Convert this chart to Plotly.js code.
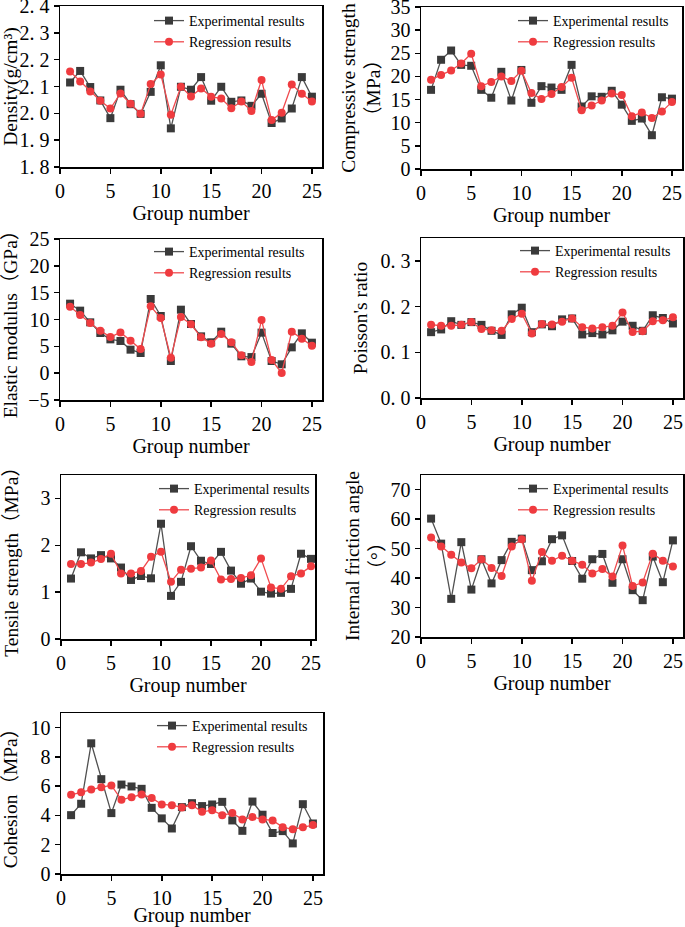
<!DOCTYPE html>
<html>
<head>
<meta charset="utf-8">
<script src="https://cdn.plot.ly/plotly-3.0.1.min.js"></script>
<style>
html,body{margin:0;padding:0;background:#fff;}
#chart{width:685px;height:927px;}
</style>
</head>
<body>
<div id="chart"></div>
<script>
// ---------------- data ----------------
const groupNumber = [1,2,3,4,5,6,7,8,9,10,11,12,13,14,15,16,17,18,19,20,21,22,23,24,25];

const densityExp = [2.115,2.158,2.098,2.048,1.982,2.088,2.034,1.998,2.080,2.179,1.944,2.099,2.088,2.135,2.047,2.099,2.043,2.048,2.028,2.073,1.964,1.981,2.018,2.135,2.062];
const densityReg = [2.156,2.119,2.081,2.047,2.018,2.074,2.036,1.998,2.109,2.145,1.995,2.099,2.063,2.093,2.062,2.055,2.019,2.044,2.009,2.124,1.975,2.002,2.107,2.073,2.044];

const compressiveExp = [17.1,23.6,25.6,22.5,22.3,17.1,15.4,21.0,14.8,21.4,14.3,17.9,17.6,17.1,22.5,13.5,15.7,15.6,16.9,13.9,10.4,10.9,7.3,15.5,15.2];
const compressiveReg = [19.3,20.3,21.3,22.8,24.9,17.9,18.8,20.0,19.0,21.2,16.4,15.1,16.2,17.7,19.7,12.7,13.7,14.8,16.3,16.0,11.4,12.2,11.0,12.4,14.5];

const elasticExp = [12.95,11.65,9.47,7.48,6.3,6.0,4.38,3.76,13.82,10.65,2.27,11.83,9.16,6.86,5.75,7.73,5.5,3.14,3.0,7.55,2.27,1.65,4.81,7.42,5.68];
const elasticReg = [12.39,10.84,9.35,7.92,6.74,7.6,6.06,4.5,12.45,10.28,2.89,10.47,9.1,6.68,5.5,7.3,5.75,3.32,2.08,9.9,2.45,0.03,7.73,6.43,5.12];

const poissonExp = [0.144,0.150,0.168,0.160,0.166,0.160,0.147,0.138,0.183,0.1975,0.144,0.161,0.157,0.172,0.174,0.139,0.142,0.139,0.148,0.167,0.158,0.147,0.181,0.175,0.163];
const poissonReg = [0.1605,0.158,0.158,0.160,0.166,0.151,0.148,0.147,0.173,0.1845,0.141,0.162,0.161,0.167,0.174,0.155,0.152,0.155,0.158,0.187,0.1445,0.146,0.168,0.170,0.1765];

const tensileExp = [1.29,1.85,1.72,1.79,1.72,1.525,1.26,1.345,1.295,2.46,0.92,1.22,1.98,1.67,1.60,1.86,1.46,1.18,1.29,1.01,0.97,0.985,1.07,1.82,1.71];
const tensileReg = [1.60,1.60,1.63,1.705,1.82,1.40,1.40,1.45,1.755,1.86,1.22,1.48,1.50,1.525,1.675,1.27,1.28,1.30,1.36,1.72,1.10,1.07,1.34,1.40,1.55];

const frictionExp = [60.2,51.7,32.95,52.2,36.1,46.4,38.2,46.1,52.3,53.4,42.7,45.7,53.2,54.5,45.8,39.8,46.4,48.2,38.4,46.4,35.9,32.5,47.3,38.6,52.8];
const frictionReg = [53.75,50.7,47.95,45.3,43.3,46.4,43.4,40.7,50.7,53.2,39.1,48.9,45.9,47.6,45.9,44.5,41.6,43.1,40.5,51.1,37.3,38.5,48.3,45.9,43.9];

const cohesionExp = [4.02,4.80,8.93,6.48,4.16,6.11,5.98,5.82,4.52,3.80,3.11,4.57,4.84,4.64,4.75,4.93,3.66,2.95,4.95,4.05,2.80,2.93,2.09,4.77,3.45];
const cohesionReg = [5.41,5.59,5.77,5.93,6.05,5.07,5.25,5.43,5.20,4.75,4.70,4.55,4.70,4.25,4.36,4.02,4.16,3.73,3.89,3.73,3.66,3.20,3.05,3.20,3.34];

const seriesNames = ['Experimental results','Regression results'];
const xTickVals = [0,5,10,15,20,25];

const densityTicks = [1.8,1.9,2.0,2.1,2.2,2.3,2.4];
const densityTickText = ['1. 8','1. 9','2. 0','2. 1','2. 2','2. 3','2. 4'];
const compressiveTicks = [0,5,10,15,20,25,30,35];
const elasticTicks = [-5,0,5,10,15,20,25];
const elasticTickText = ['\u22125','0','5','10','15','20','25'];
const poissonTicks = [0,0.1,0.2,0.3];
const poissonTickText = ['0. 0','0. 1','0. 2','0. 3'];
const tensileTicks = [0,1,2,3];
const frictionTicks = [20,30,40,50,60,70];
const cohesionTicks = [0,2,4,6,8,10];

const yTitles = [
  'Density(g/cm\u00b3)',
  'Compressive strength<br>\uff08MPa\uff09',
  'Elastic modulus\uff08GPa\uff09',
  "Poisson's ratio",
  'Tensile strength\uff08MPa\uff09',
  'Internal friction angle<br>\uff08\u00b0\uff09',
  'Cohesion\uff08MPa\uff09'
];
const xTitle = 'Group number';

// ---------------- layout / style ----------------
const W = 685, H = 927;
const FONT = '"Liberation Serif", "Times New Roman", "Noto Sans CJK SC", serif';
const expColor = '#3a3a3a', expLine = '#505050';
const regColor = '#ef3b3f', regLine = '#f04a4e';

const panels = [
  {exp: densityExp, reg: densityReg, xpx:[60,322], ypx:[6,167], yr:[1.8,2.4], tv:densityTicks, tt:densityTickText, xr:[0,26], leg:[189,24], so:3},
  {exp: compressiveExp, reg: compressiveReg, xpx:[421,682], ypx:[7,169], yr:[0,35], tv:compressiveTicks, tt:null, xr:[0,26], leg:[553,24], so:4},
  {exp: elasticExp, reg: elasticReg, xpx:[60,322], ypx:[239,400], yr:[-5,25], tv:elasticTicks, tt:elasticTickText, xr:[0,26], leg:[189,255], so:13},
  {exp: poissonExp, reg: poissonReg, xpx:[421,683], ypx:[238,398], yr:[0,0.35], tv:poissonTicks, tt:poissonTickText, xr:[0,26], leg:[555,254], so:7},
  {exp: tensileExp, reg: tensileReg, xpx:[61,315], ypx:[475,639], yr:[0,3.5], tv:tensileTicks, tt:null, xr:[0,25.4], leg:[194,492], so:16},
  {exp: frictionExp, reg: frictionReg, xpx:[421,683], ypx:[475,637], yr:[20,75], tv:frictionTicks, tt:null, xr:[0,26], leg:[553,492], so:0},
  {exp: cohesionExp, reg: cohesionReg, xpx:[61,323], ypx:[713,874], yr:[0,11], tv:cohesionTicks, tt:null, xr:[0,26], leg:[192,729], so:14}
];

const data = [];
const layout = {
  width: W, height: H,
  margin: {l:0, r:0, t:0, b:0},
  paper_bgcolor: '#fff', plot_bgcolor: '#fff',
  font: {family: FONT, color: '#000', size: 14},
  showlegend: true
};

panels.forEach((p, i) => {
  const n = i + 1;
  const xa = n === 1 ? 'x' : 'x' + n;
  const ya = n === 1 ? 'y' : 'y' + n;
  const legName = n === 1 ? 'legend' : 'legend' + n;
  data.push({
    type: 'scatter', mode: 'lines+markers', x: groupNumber, y: p.exp,
    name: seriesNames[0], xaxis: xa, yaxis: ya, legend: legName,
    line: {color: expLine, width: 1.3},
    marker: {symbol: 'square', size: 8, color: expColor},
    cliponaxis: false
  });
  data.push({
    type: 'scatter', mode: 'lines+markers', x: groupNumber, y: p.reg,
    name: seriesNames[1], xaxis: xa, yaxis: ya, legend: legName,
    line: {color: regLine, width: 1.3},
    marker: {symbol: 'circle', size: 8, color: regColor},
    cliponaxis: false
  });
  const axisCommon = {
    showline: true, linewidth: 1.5, linecolor: '#000', mirror: true,
    ticks: 'outside', ticklen: 5, tickwidth: 1.5, tickcolor: '#000',
    showgrid: false, zeroline: false, fixedrange: true,
    ticklabeloverflow: 'allow',
    tickfont: {family: FONT, size: 20, color: '#000'}
  };
  layout[n === 1 ? 'xaxis' : 'xaxis' + n] = Object.assign({}, axisCommon, {
    domain: [p.xpx[0] / W, p.xpx[1] / W],
    range: p.xr, tickmode: 'array', tickvals: xTickVals,
    anchor: ya,
    title: {text: xTitle, font: {family: FONT, size: 20, color: '#000'}, standoff: 0}
  });
  const yax = Object.assign({}, axisCommon, {
    domain: [1 - p.ypx[1] / H, 1 - p.ypx[0] / H],
    range: p.yr, tickmode: 'array', tickvals: p.tv,
    anchor: xa,
    title: {text: yTitles[i], font: {family: FONT, size: 19.5, color: '#000'}, standoff: p.so}
  });
  if (p.tt) yax.ticktext = p.tt;
  layout[n === 1 ? 'yaxis' : 'yaxis' + n] = yax;
  layout[legName] = {
    x: (p.leg[0] - 40) / W, y: 1 - (p.leg[1] - 19) / H,
    xanchor: 'left', yanchor: 'top', xref: 'paper', yref: 'paper',
    bgcolor: 'rgba(0,0,0,0)', borderwidth: 0,
    font: {family: FONT, size: 14, color: '#000'}
  };
});

Plotly.newPlot('chart', data, layout, {displayModeBar: false, staticPlot: true});
</script>
</body>
</html>
